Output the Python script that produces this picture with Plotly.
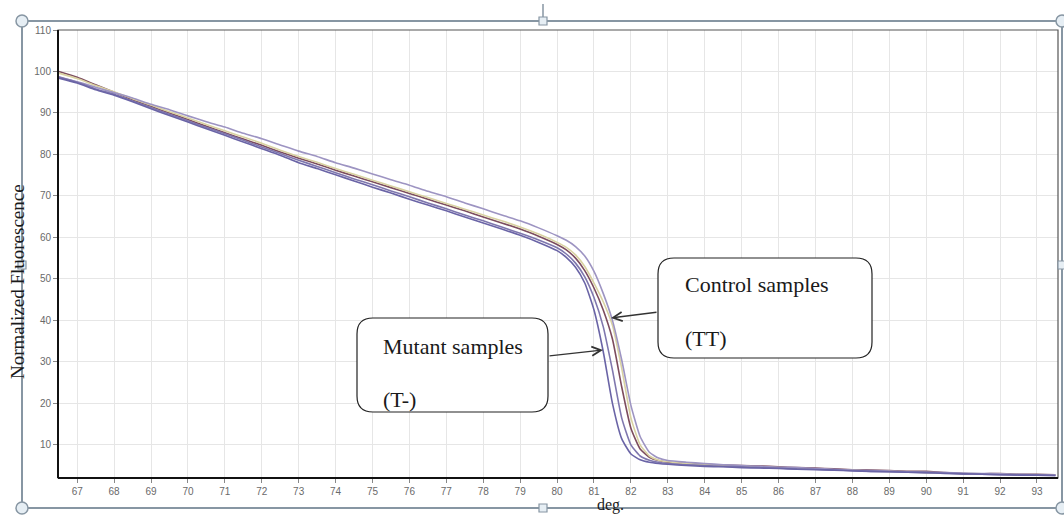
import plotly.graph_objects as go

# ---------------- data ----------------
temp = [66.5, 67, 67.5, 68, 68.5, 69, 69.5, 70, 70.5, 71, 71.5, 72, 72.5, 73, 73.5, 74, 74.5, 75,
        75.5, 76, 76.5, 77, 77.5, 78, 78.5, 79, 79.5, 80, 80.25, 80.5, 80.75, 81, 81.25, 81.5,
        81.75, 82, 82.25, 82.5, 82.75, 83, 83.5, 84, 84.5, 85, 85.5, 86, 86.5, 87, 87.5, 88,
        88.5, 89, 89.5, 90, 90.5, 91, 91.5, 92, 92.5, 93, 93.5]

ctrl_lavender = [98.6, 97.5, 96.2, 94.9, 93.6, 92.1, 90.8, 89.3, 87.9, 86.6, 85.1, 83.8, 82.3, 80.8,
                 79.5, 78.0, 76.7, 75.3, 73.9, 72.6, 71.1, 69.8, 68.3, 66.9, 65.4, 64.0, 62.3, 60.4,
                 59.3, 57.8, 55.5, 51.8, 46.5, 40.0, 30.5, 19.5, 12.0, 8.2, 6.8, 6.2, 5.8, 5.5, 5.2,
                 5.0, 4.8, 4.6, 4.5, 4.3, 4.1, 3.9, 3.8, 3.7, 3.5, 3.4, 3.3, 3.2, 3.1, 3.0, 2.9, 2.8, 2.7]

ctrl_beige = [99.6, 98.3, 96.6, 95.1, 93.4, 91.9, 90.3, 88.8, 87.2, 85.7, 84.2, 82.7, 81.0, 79.5,
              78.1, 76.6, 75.2, 73.8, 72.4, 71.0, 69.6, 68.2, 66.8, 65.4, 64.0, 62.5, 60.8, 58.8,
              57.6, 55.8, 53.0, 49.0, 44.5, 38.8, 28.5, 16.5, 10.0, 7.3, 6.3, 5.9, 5.5, 5.2, 5.0,
              4.8, 4.7, 4.5, 4.3, 4.2, 4.0, 3.9, 3.7, 3.6, 3.5, 3.3, 3.2, 3.1, 3.0, 2.9, 2.8, 2.8, 2.7]

ctrl_maroon = [100.0, 98.6, 96.8, 95.0, 93.2, 91.6, 90.0, 88.4, 86.8, 85.2, 83.7, 82.2, 80.6, 79.1,
               77.7, 76.2, 74.8, 73.4, 72.0, 70.6, 69.2, 67.8, 66.4, 64.9, 63.5, 62.0, 60.3, 58.3,
               57.0, 55.0, 52.0, 47.8, 42.5, 35.5, 24.0, 14.0, 9.0, 7.0, 6.2, 5.8, 5.5, 5.3, 5.1,
               5.0, 4.9, 4.7, 4.5, 4.4, 4.2, 4.0, 3.9, 3.8, 3.6, 3.6, 3.3, 3.1, 3.0, 3.1, 2.9, 2.9, 2.8]

mut_purple = [98.7, 97.4, 95.8, 94.5, 92.9, 91.3, 89.7, 88.1, 86.5, 85.0, 83.4, 81.8, 80.2, 78.6,
              77.1, 75.6, 74.1, 72.7, 71.2, 69.8, 68.3, 66.9, 65.4, 64.0, 62.5, 61.0, 59.4, 57.5,
              56.0, 53.8, 50.5, 45.5, 38.5, 28.0, 16.5, 10.0, 7.3, 6.3, 5.8, 5.5, 5.2, 5.0, 4.8,
              4.7, 4.5, 4.4, 4.2, 4.1, 3.9, 3.8, 3.6, 3.5, 3.4, 3.3, 3.2, 3.0, 2.9, 2.8, 2.8, 2.7, 2.6]

mut_blue = [98.4, 97.2, 95.6, 94.3, 92.7, 91.0, 89.4, 87.8, 86.2, 84.6, 83.0, 81.4, 79.8, 78.0,
            76.6, 75.1, 73.6, 72.1, 70.7, 69.2, 67.8, 66.4, 64.9, 63.5, 62.0, 60.5, 58.8, 56.8,
            55.2, 52.8, 49.0, 42.5, 32.5, 20.0, 11.5, 7.8, 6.4, 5.8, 5.5, 5.3, 5.0, 4.8, 4.7,
            4.5, 4.4, 4.3, 4.1, 4.0, 3.9, 3.7, 3.6, 3.5, 3.4, 3.3, 3.1, 3.0, 2.9, 2.8, 2.7, 2.7, 2.6]

x_ticks = list(range(67, 94))
y_ticks = list(range(10, 111, 10))

series = [
    ("Control maroon", ctrl_maroon, "#7c4c5e"),
    ("Control beige", ctrl_beige, "#d9d2a2"),
    ("Control lavender", ctrl_lavender, "#9d94c2"),
    ("Mutant purple", mut_purple, "#7f77ae"),
    ("Mutant blue", mut_blue, "#6a64a6"),
]

# ---------------- figure ----------------
W, H = 1064, 518
L, R, T, B = 58, 6, 30, 40

fig = go.Figure()
for name, vals, col in series:
    fig.add_trace(go.Scatter(x=temp, y=vals, mode="lines", name=name,
                             line=dict(color=col, width=1.6, shape="spline", smoothing=0.5),
                             hoverinfo="skip"))

def px(xp):
    return (xp - L) / (W - L - R)

def py(yp):
    return (H - B - yp) / (H - T - B)

shapes = []
shapes.append(dict(type="rect", xref="paper", yref="paper", x0=0, y0=0, x1=1, y1=1,
                   line=dict(color="#555555", width=1.2), layer="above"))
shapes.append(dict(type="line", xref="paper", yref="paper", x0=0, y0=0, x1=0, y1=1,
                   line=dict(color="#111111", width=2), layer="above"))
shapes.append(dict(type="line", xref="paper", yref="paper", x0=0, y0=0, x1=1, y1=0,
                   line=dict(color="#111111", width=2.2), layer="above"))

# outer picture frame
fx0, fy0, fx1, fy1 = 22, 21, 1062, 508
shapes.append(dict(type="rect", xref="paper", yref="paper", x0=px(fx0), y0=py(fy0),
                   x1=px(fx1), y1=py(fy1), line=dict(color="#8796a3", width=2), layer="above"))
shapes.append(dict(type="line", xref="paper", yref="paper", x0=px(543), y0=py(4),
                   x1=px(543), y1=py(fy0), line=dict(color="#8796a3", width=1.5), layer="above"))
for cx, cy in [(fx0, fy0), (fx0, fy1), (fx1, fy0), (fx1, fy1)]:
    r = 6
    shapes.append(dict(type="circle", xref="paper", yref="paper", x0=px(cx - r), y0=py(cy - r),
                       x1=px(cx + r), y1=py(cy + r), fillcolor="#e6eef4",
                       line=dict(color="#8796a3", width=1.5), layer="above"))
for cx, cy in [(543, fy0), (543, fy1), (fx0, 265), (fx1, 265)]:
    r = 4
    shapes.append(dict(type="rect", xref="paper", yref="paper", x0=px(cx - r), y0=py(cy - r),
                       x1=px(cx + r), y1=py(cy + r), fillcolor="#e6eef4",
                       line=dict(color="#8796a3", width=1.2), layer="above"))

def rounded_box(x0, y0, x1, y1, rad=16):
    p = []
    p.append(f"M {px(x0 + rad)},{py(y0)}")
    p.append(f"L {px(x1 - rad)},{py(y0)}")
    p.append(f"Q {px(x1)},{py(y0)} {px(x1)},{py(y0 + rad)}")
    p.append(f"L {px(x1)},{py(y1 - rad)}")
    p.append(f"Q {px(x1)},{py(y1)} {px(x1 - rad)},{py(y1)}")
    p.append(f"L {px(x0 + rad)},{py(y1)}")
    p.append(f"Q {px(x0)},{py(y1)} {px(x0)},{py(y1 - rad)}")
    p.append(f"L {px(x0)},{py(y0 + rad)}")
    p.append(f"Q {px(x0)},{py(y0)} {px(x0 + rad)},{py(y0)} Z")
    return dict(type="path", xref="paper", yref="paper", path=" ".join(p),
                fillcolor="white", line=dict(color="#222222", width=1.2), layer="above")

shapes.append(rounded_box(658, 258, 872, 358))
shapes.append(rounded_box(357, 318, 548, 412))

serif = "Liberation Serif, Times New Roman, serif"
ann = []
def txt(x, y, s, size=22):
    ann.append(dict(xref="paper", yref="paper", x=px(x), y=py(y), text=s, showarrow=False,
                    xanchor="left", yanchor="middle", font=dict(family=serif, size=size, color="#1a1a1a")))

txt(683, 284, "Control samples")
txt(683, 338, "(TT)")
txt(381, 346, "Mutant samples")
txt(381, 399, "(T-)")

# arrows (tail offsets in pixels)
ann.append(dict(xref="paper", yref="paper", x=px(611), y=py(318), ax=658 - 611, ay=312 - 318,
                axref="pixel", ayref="pixel", text="", showarrow=True, arrowhead=5,
                arrowsize=1.3, arrowwidth=1.4, arrowcolor="#333333"))
ann.append(dict(xref="paper", yref="paper", x=px(603), y=py(350), ax=548 - 603, ay=356 - 350,
                axref="pixel", ayref="pixel", text="", showarrow=True, arrowhead=5,
                arrowsize=1.3, arrowwidth=1.4, arrowcolor="#333333"))

ann.append(dict(xref="paper", yref="paper", x=px(17), y=py(282), text="Normalized Fluorescence",
                textangle=-90, showarrow=False, xanchor="center", yanchor="middle",
                font=dict(family=serif, size=19, color="#1a1a1a")))
ann.append(dict(xref="paper", yref="paper", x=px(610), y=py(505), text="deg.",
                showarrow=False, xanchor="center", yanchor="middle",
                font=dict(family=serif, size=16, color="#1a1a1a")))

fig.update_layout(
    width=W, height=H,
    margin=dict(l=L, r=R, t=T, b=B),
    paper_bgcolor="white", plot_bgcolor="white",
    showlegend=False,
    shapes=shapes, annotations=ann,
    xaxis=dict(range=[66.48, 93.57], tickvals=x_ticks, ticktext=[str(v) for v in x_ticks],
               showgrid=True, gridcolor="#e6e6e6", gridwidth=1, zeroline=False,
               ticks="outside", ticklen=4, tickcolor="#888888",
               tickfont=dict(family="Liberation Sans, Arial, sans-serif", size=10, color="#6a6a6a")),
    yaxis=dict(range=[2, 110], tickvals=y_ticks, ticktext=[str(v) for v in y_ticks],
               showgrid=True, gridcolor="#e6e6e6", gridwidth=1, zeroline=False,
               ticks="outside", ticklen=4, tickcolor="#888888",
               tickfont=dict(family="Liberation Sans, Arial, sans-serif", size=10, color="#6a6a6a")),
)

fig.write_html("out.html", config={"displayModeBar": False},
               post_script="document.body.style.margin='0';document.body.style.padding='0';"
                           "document.body.style.overflow='hidden';")
